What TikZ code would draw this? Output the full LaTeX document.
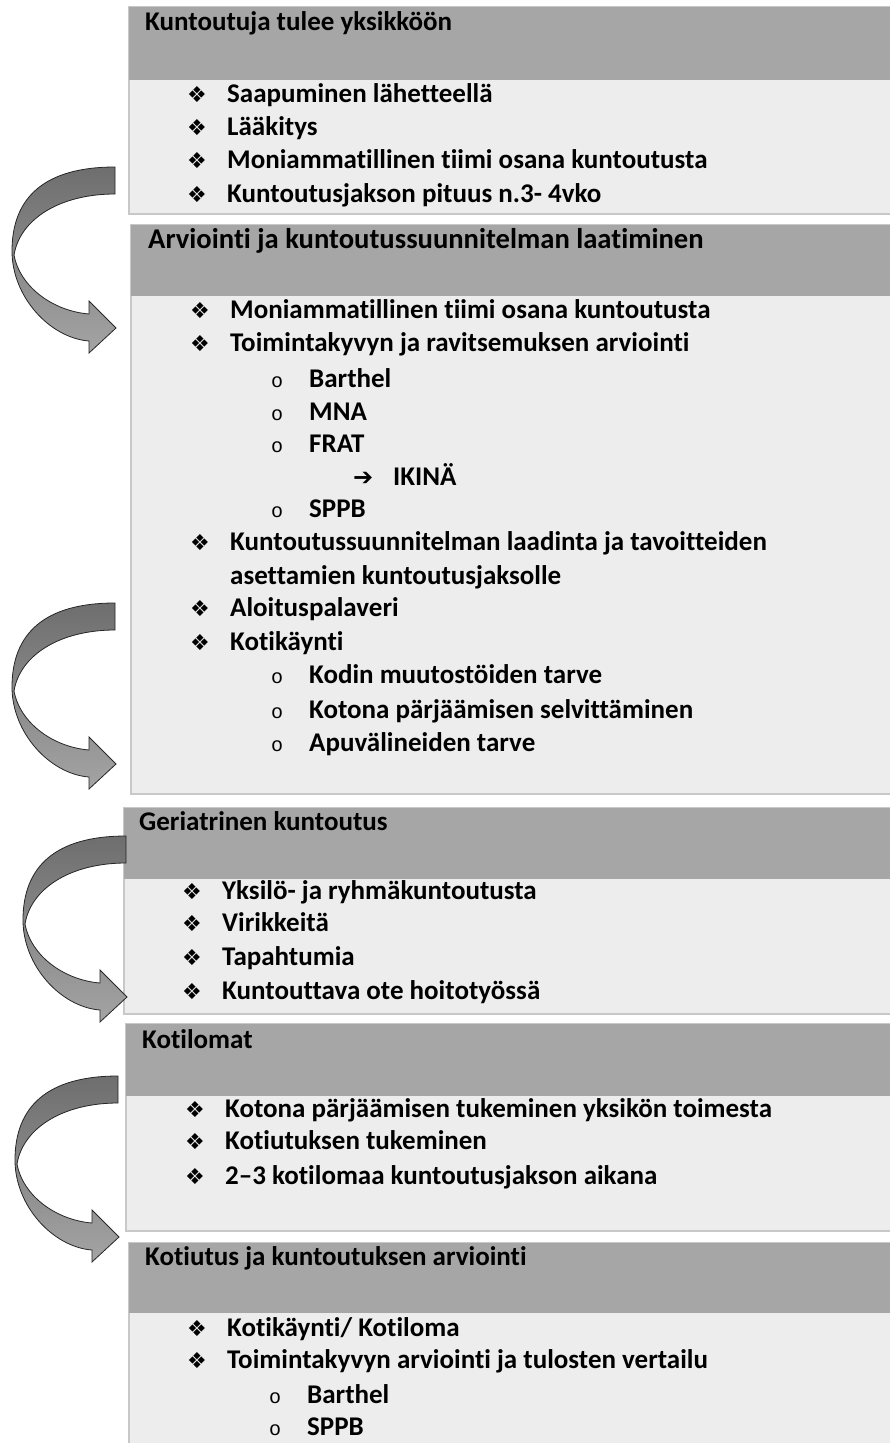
\documentclass[tikz,border=0pt]{standalone}
\usepackage{fontspec}
\setmainfont{Carlito}[Ligatures=NoCommon]
\newfontfamily\symfont{DejaVu Sans}
\newfontfamily\ringfont{Liberation Mono}
\usetikzlibrary{positioning}

\definecolor{headgray}{HTML}{A6A6A6}
\definecolor{bodygray}{HTML}{EDEDED}
\definecolor{edgegray}{HTML}{C8C8C8}
\definecolor{arrowdark}{HTML}{6E6E6E}
\definecolor{arrowlight}{HTML}{A4A4A4}

% bullet marks of the list levels
\newcommand{\dia}{\makebox[40pt][l]{\symfont\fontsize{22}{22}\selectfont ❖}}
\newcommand{\ring}{\makebox[38pt][l]{\ringfont\mdseries\fontsize{20}{20}\selectfont o}}
\newcommand{\goesto}{\makebox[40pt][l]{\symfont\fontsize{24}{24}\selectfont ➔}}

\begin{document}
\begin{tikzpicture}[x=1pt,y=-1pt,
    stagebody/.style={anchor=north west,inner sep=0,minimum width=800,fill=bodygray,draw=edgegray,line width=1.5pt},
    stagehead/.style={anchor=north west,inner sep=0,minimum width=800,fill=headgray},
    title/.style={anchor=base west,inner sep=0,font=\bfseries\fontsize{27}{32}\selectfont},
    entry/.style={title},
    bentarrow/.style={draw=black!85,line width=0.8pt,top color=arrowdark,bottom color=arrowlight}]
  \useasboundingbox (0,0) rectangle (890,1443);
  \clip (0,0) rectangle (890,1443);

  % Kuntoutuja tulee yksikköön
  \node[stagebody,minimum height=207] (s1) at (128,6) {};
  \node[stagehead,minimum height=73] (h1) at (128.75,6.75) {};
  \node[title] (s1t) at (145,30) {Kuntoutuja tulee yksikköön};
  \node[entry] (s1a) at (187,102) {\dia Saapuminen lähetteellä};
  \node[entry] (s1b) at (187,135) {\dia Lääkitys};
  \node[entry] (s1c) at (187,168) {\dia Moniammatillinen tiimi osana kuntoutusta};
  \node[entry] (s1d) at (187,202) {\dia Kuntoutusjakson pituus n.3- 4vko};

  % Arviointi
  \node[stagebody,minimum height=569] (s2) at (130,224) {};
  \node[stagehead,minimum height=71] (h2) at (130.75,224.75) {};
  \node[title,font=\bfseries\fontsize{28.6}{33}\selectfont] (s2t) at (148,248) {Arviointi ja kuntoutussuunnitelman laatiminen};
  \node[entry] (s2a) at (190,318) {\dia Moniammatillinen tiimi osana kuntoutusta};
  \node[entry] (s2b) at (190,351) {\dia Toimintakyvyn ja ravitsemuksen arviointi};
  \node[entry] (s2c) at (271,387) {\ring Barthel};
  \node[entry] (s2d) at (271,420) {\ring MNA};
  \node[entry] (s2e) at (271,452) {\ring FRAT};
  \node[entry] (s2f) at (353,485) {\goesto IKINÄ};
  \node[entry] (s2g) at (271,517) {\ring SPPB};
  \node[entry] (s2h) at (190,550) {\dia Kuntoutussuunnitelman laadinta ja tavoitteiden};
  \node[entry] (s2i) at (230,584) {asettamien kuntoutusjaksolle};
  \node[entry] (s2j) at (190,616) {\dia Aloituspalaveri};
  \node[entry] (s2k) at (190,650) {\dia Kotikäynti};
  \node[entry] (s2l) at (271,683) {\ring Kodin muutostöiden tarve};
  \node[entry] (s2m) at (271,718) {\ring Kotona pärjäämisen selvittäminen};
  \node[entry] (s2n) at (271,751) {\ring Apuvälineiden tarve};

  % Geriatrinen kuntoutus
  \node[stagebody,minimum height=206] (s3) at (123,807) {};
  \node[stagehead,minimum height=71] (h3) at (123.75,807.75) {};
  \node[title] (s3t) at (139,830) {Geriatrinen kuntoutus};
  \node[entry] (s3a) at (182,899) {\dia Yksilö- ja ryhmäkuntoutusta};
  \node[entry] (s3b) at (182,931) {\dia Virikkeitä};
  \node[entry] (s3c) at (182,965) {\dia Tapahtumia};
  \node[entry] (s3d) at (182,999) {\dia Kuntouttava ote hoitotyössä};

  % Kotilomat
  \node[stagebody,minimum height=207] (s4) at (125,1023) {};
  \node[stagehead,minimum height=72] (h4) at (125.75,1023.75) {};
  \node[title] (s4t) at (142,1048) {Kotilomat};
  \node[entry] (s4a) at (185,1117) {\dia Kotona pärjäämisen tukeminen yksikön toimesta};
  \node[entry] (s4b) at (185,1149) {\dia Kotiutuksen tukeminen};
  \node[entry] (s4c) at (185,1184) {\dia 2–3 kotilomaa kuntoutusjakson aikana};

  % Kotiutus
  \node[stagebody,minimum height=230] (s5) at (128,1242) {};
  \node[stagehead,minimum height=70] (h5) at (128.75,1242.75) {};
  \node[title] (s5t) at (145,1265) {Kotiutus ja kuntoutuksen arviointi};
  \node[entry] (s5a) at (187,1336) {\dia Kotikäynti/ Kotiloma};
  \node[entry] (s5b) at (187,1368) {\dia Toimintakyvyn arviointi ja tulosten vertailu};
  \node[entry] (s5c) at (269,1403) {\ring Barthel};
  \node[entry] (s5d) at (269,1435) {\ring SPPB};

  % curved arrows from stage to stage
  \coordinate (t1) at (115,167);
  \coordinate (t2) at (115,603);
  \coordinate (t3) at (126,836);
  \coordinate (t4) at (118,1076);
  \foreach \t in {t1,t2,t3,t4}
    \draw[bentarrow,shift={(\t)}] (0,0) .. controls (-70,0) and (-103,30) .. (-103,84)
      .. controls (-103,130) and (-65,171) .. (-26,174) -- (-26,186) -- (1,161) -- (-26,134) -- (-26,147)
      .. controls (-62,144) and (-95,120) .. (-101,88)
      .. controls (-95,52) and (-55,27) .. (0,27) -- cycle;
\end{tikzpicture}
\end{document}
